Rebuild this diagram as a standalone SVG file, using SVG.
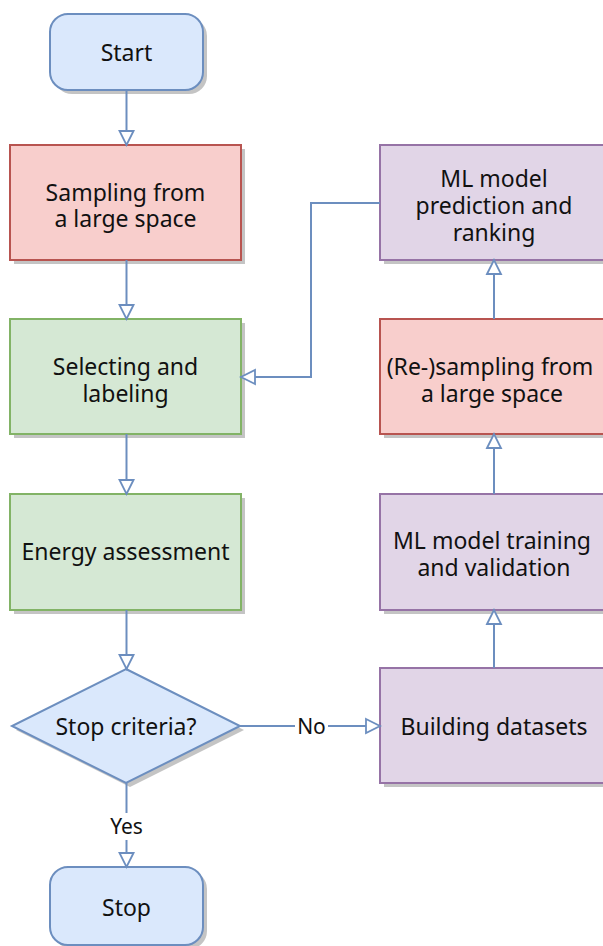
<svg xmlns="http://www.w3.org/2000/svg" width="603" height="946" viewBox="0 0 603 946">
<style>
text{font-family:"Noto Sans","Open Sans","Liberation Sans",sans-serif;font-size:23px;fill:#111;text-anchor:middle}
.sh{fill:#c4c4c4}
.blue{fill:#dae8fc;stroke:#6c8ebf;stroke-width:2}
.red{fill:#f8cecc;stroke:#b85450;stroke-width:2}
.green{fill:#d5e8d4;stroke:#82b366;stroke-width:2}
.purple{fill:#e1d5e7;stroke:#9673a6;stroke-width:2}
.c{fill:none;stroke:#6c8ebf;stroke-width:2;marker-end:url(#ah)}
.lbl{font-size:21px}
</style>
<defs>
<marker id="ah" markerUnits="userSpaceOnUse" markerWidth="18" markerHeight="18" refX="15" refY="8" orient="auto" overflow="visible">
<path d="M1,1 L15,8 L1,15 Z" fill="#fff" stroke="#6c8ebf" stroke-width="1.8"/>
</marker>
</defs>
<rect width="603" height="946" fill="#fff"/>

<g id="start">
<rect class="sh" x="54" y="18" width="153" height="76" rx="18"/>
<rect class="blue" x="50" y="14" width="153" height="76" rx="18"/>
<text x="126.5" y="61">Start</text>
</g>
<g id="sampling">
<rect class="sh" x="14" y="149" width="231" height="115"/>
<rect class="red" x="10" y="145" width="231" height="115"/>
<text x="125.5" y="201">Sampling from</text>
<text x="125.5" y="227">a large space</text>
</g>
<g id="selecting">
<rect class="sh" x="14" y="323" width="231" height="115"/>
<rect class="green" x="10" y="319" width="231" height="115"/>
<text x="125.5" y="375">Selecting and</text>
<text x="125.5" y="402">labeling</text>
</g>
<g id="energy">
<rect class="sh" x="14" y="498" width="231" height="116"/>
<rect class="green" x="10" y="494" width="231" height="116"/>
<text x="125.5" y="560">Energy assessment</text>
</g>
<g id="decision">
<polygon class="sh" points="130,673 244,730 130,787 16,730"/>
<polygon class="blue" points="126,669 240,726 126,783 12,726"/>
<text x="126" y="734.5">Stop criteria?</text>
</g>
<g id="stop">
<rect class="sh" x="54" y="871" width="153" height="78" rx="18"/>
<rect class="blue" x="50" y="867" width="153" height="78" rx="18"/>
<text x="126.5" y="916">Stop</text>
</g>
<g id="prediction">
<rect class="sh" x="384" y="149" width="231" height="115"/>
<rect class="purple" x="380" y="145" width="231" height="115"/>
<text x="494" y="186.5">ML model</text>
<text x="494" y="213.5">prediction and</text>
<text x="494" y="240.5">ranking</text>
</g>
<g id="resampling">
<rect class="sh" x="384" y="323" width="231" height="115"/>
<rect class="red" x="380" y="319" width="231" height="115"/>
<text x="490" y="375">(Re-)sampling from</text>
<text x="492" y="402">a large space</text>
</g>
<g id="training">
<rect class="sh" x="384" y="498" width="231" height="116"/>
<rect class="purple" x="380" y="494" width="231" height="116"/>
<text x="492" y="549">ML model training</text>
<text x="494" y="576">and validation</text>
</g>
<g id="building">
<rect class="sh" x="384" y="672" width="231" height="115"/>
<rect class="purple" x="380" y="668" width="231" height="115"/>
<text x="494" y="734.5">Building datasets</text>
</g>

<g id="connectors">
<path class="c" d="M126.5,90 V145"/>
<path class="c" d="M126.5,260 V319"/>
<path class="c" d="M126.5,434 V494"/>
<path class="c" d="M126.5,610 V669"/>
<path class="c" d="M126.5,783 V867"/>
<path class="c" d="M240,726 H380"/>
<path class="c" d="M494,668 V610"/>
<path class="c" d="M494,494 V434"/>
<path class="c" d="M494,319 V260"/>
<path class="c" d="M380,203 H311 V377 H241"/>
<rect x="106" y="813" width="41" height="27" fill="#fff"/>
<text class="lbl" x="126.5" y="834">Yes</text>
<rect x="295" y="713" width="33" height="27" fill="#fff"/>
<text class="lbl" x="311.5" y="734">No</text>
</g>
</svg>
